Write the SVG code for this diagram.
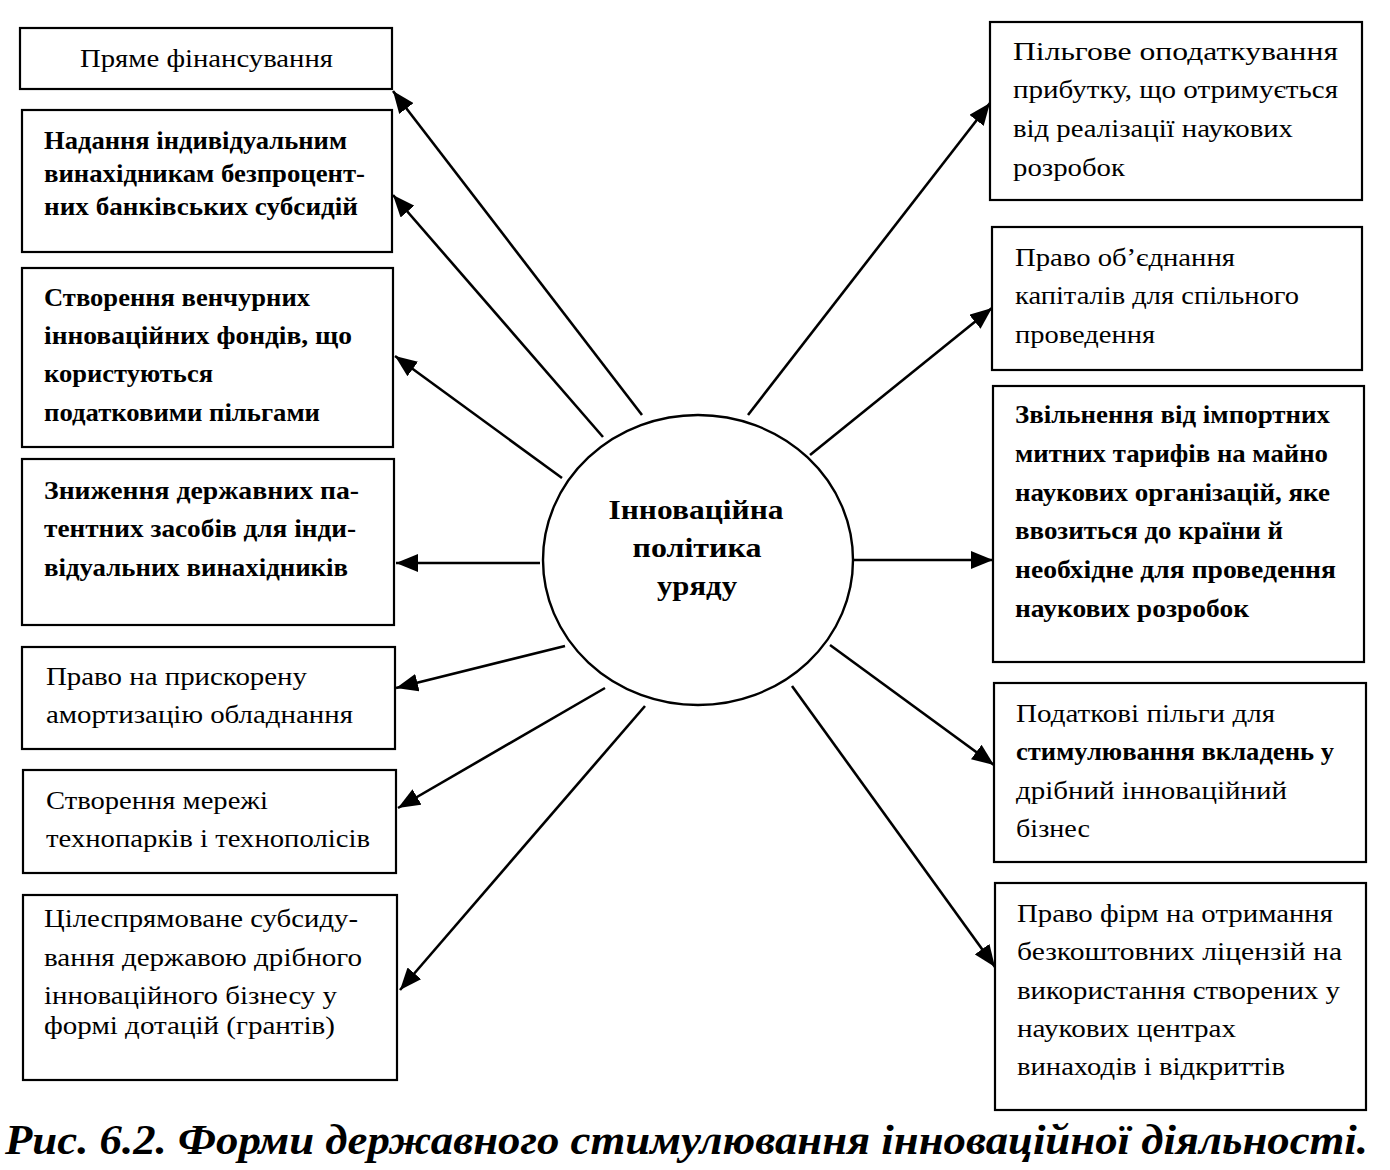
<svg xmlns="http://www.w3.org/2000/svg" width="1390" height="1170" viewBox="0 0 1390 1170">
<style>
.box{fill:#fff;stroke:#000;stroke-width:2.2}
.t{font-family:"Liberation Serif","Times New Roman",serif;font-size:25px;fill:#000}
.b{font-weight:bold}
.c{font-family:"Liberation Serif","Times New Roman",serif;font-size:28px;font-weight:bold;fill:#000;text-anchor:middle}
.cap{font-family:"Liberation Serif","Times New Roman",serif;font-size:42px;font-weight:bold;font-style:italic;fill:#000}
.ln{stroke:#000;stroke-width:2.6;fill:none;marker-end:url(#ah)}
</style>
<defs>
<marker id="ah" markerUnits="userSpaceOnUse" markerWidth="24" markerHeight="18" refX="22" refY="9" orient="auto">
<path d="M0,0 L22,9 L0,18 z" fill="#000"/>
</marker>
</defs>
<rect width="1390" height="1170" fill="#fff"/>

<g id="connectors">
<line class="ln" x1="642" y1="415" x2="393" y2="91"/>
<line class="ln" x1="603" y1="437" x2="393" y2="195"/>
<line class="ln" x1="562" y1="478" x2="395" y2="356"/>
<line class="ln" x1="540" y1="563" x2="396" y2="563"/>
<line class="ln" x1="565" y1="646" x2="396" y2="688"/>
<line class="ln" x1="605" y1="688" x2="398" y2="808"/>
<line class="ln" x1="645" y1="706" x2="400" y2="990"/>
<line class="ln" x1="748" y1="415" x2="990" y2="103"/>
<line class="ln" x1="810" y1="455" x2="992" y2="308"/>
<line class="ln" x1="853" y1="560" x2="993" y2="560"/>
<line class="ln" x1="830" y1="645" x2="994" y2="765"/>
<line class="ln" x1="792" y1="686" x2="995" y2="967"/>
</g>

<g id="center">
<ellipse cx="698" cy="560" rx="155" ry="145" fill="#fff" stroke="#000" stroke-width="2.4"/>
<text class="c" x="696" y="519" textLength="175" lengthAdjust="spacingAndGlyphs">Інноваційна</text>
<text class="c" x="697" y="557" textLength="129" lengthAdjust="spacingAndGlyphs">політика</text>
<text class="c" x="697" y="595" textLength="80" lengthAdjust="spacingAndGlyphs">уряду</text>
</g>

<g id="L1">
<rect class="box" x="20" y="28" width="372" height="61"/>
<text class="t" x="80" y="67" textLength="253" lengthAdjust="spacingAndGlyphs">Пряме фінансування</text>
</g>
<g id="L2">
<rect class="box" x="22" y="110" width="370" height="142"/>
<text class="t b" x="44" y="149" textLength="303" lengthAdjust="spacingAndGlyphs">Надання індивідуальним</text>
<text class="t b" x="44" y="182" textLength="321" lengthAdjust="spacingAndGlyphs">винахідникам безпроцент-</text>
<text class="t b" x="44" y="215" textLength="314" lengthAdjust="spacingAndGlyphs">них банківських субсидій</text>
</g>
<g id="L3">
<rect class="box" x="22" y="268" width="371" height="179"/>
<text class="t b" x="44" y="306" textLength="266" lengthAdjust="spacingAndGlyphs">Створення венчурних</text>
<text class="t b" x="44" y="344" textLength="308" lengthAdjust="spacingAndGlyphs">інноваційних фондів, що</text>
<text class="t b" x="44" y="382" textLength="169" lengthAdjust="spacingAndGlyphs">користуються</text>
<text class="t b" x="44" y="421" textLength="276" lengthAdjust="spacingAndGlyphs">податковими пільгами</text>
</g>
<g id="L4">
<rect class="box" x="22" y="459" width="372" height="166"/>
<text class="t b" x="44" y="499" textLength="315" lengthAdjust="spacingAndGlyphs">Зниження державних па-</text>
<text class="t b" x="44" y="537" textLength="312" lengthAdjust="spacingAndGlyphs">тентних засобів для інди-</text>
<text class="t b" x="44" y="576" textLength="304" lengthAdjust="spacingAndGlyphs">відуальних винахідників</text>
</g>
<g id="L5">
<rect class="box" x="22" y="647" width="373" height="102"/>
<text class="t" x="46" y="685" textLength="261" lengthAdjust="spacingAndGlyphs">Право на прискорену</text>
<text class="t" x="46" y="723" textLength="307" lengthAdjust="spacingAndGlyphs">амортизацію обладнання</text>
</g>
<g id="L6">
<rect class="box" x="23" y="770" width="373" height="103"/>
<text class="t" x="46" y="809" textLength="222" lengthAdjust="spacingAndGlyphs">Створення мережі</text>
<text class="t" x="46" y="847" textLength="324" lengthAdjust="spacingAndGlyphs">технопарків і технополісів</text>
</g>
<g id="L7">
<rect class="box" x="23" y="895" width="374" height="185"/>
<text class="t" x="44" y="927" textLength="314" lengthAdjust="spacingAndGlyphs">Цілеспрямоване субсиду-</text>
<text class="t" x="44" y="966" textLength="318" lengthAdjust="spacingAndGlyphs">вання державою дрібного</text>
<text class="t" x="44" y="1004" textLength="293" lengthAdjust="spacingAndGlyphs">інноваційного бізнесу у</text>
<text class="t" x="44" y="1034" textLength="291" lengthAdjust="spacingAndGlyphs">формі дотацій (грантів)</text>
</g>

<g id="R1">
<rect class="box" x="990" y="22" width="372" height="178"/>
<text class="t" x="1013" y="60" textLength="325" lengthAdjust="spacingAndGlyphs">Пільгове оподаткування</text>
<text class="t" x="1013" y="98" textLength="325" lengthAdjust="spacingAndGlyphs">прибутку, що отримується</text>
<text class="t" x="1013" y="137" textLength="280" lengthAdjust="spacingAndGlyphs">від реалізації наукових</text>
<text class="t" x="1013" y="176" textLength="112" lengthAdjust="spacingAndGlyphs">розробок</text>
</g>
<g id="R2">
<rect class="box" x="992" y="227" width="370" height="143"/>
<text class="t" x="1015" y="266" textLength="220" lengthAdjust="spacingAndGlyphs">Право об’єднання</text>
<text class="t" x="1015" y="304" textLength="284" lengthAdjust="spacingAndGlyphs">капіталів для спільного</text>
<text class="t" x="1015" y="343" textLength="140" lengthAdjust="spacingAndGlyphs">проведення</text>
</g>
<g id="R3">
<rect class="box" x="993" y="386" width="371" height="276"/>
<text class="t b" x="1015" y="423" textLength="315" lengthAdjust="spacingAndGlyphs">Звільнення від імпортних</text>
<text class="t b" x="1015" y="462" textLength="313" lengthAdjust="spacingAndGlyphs">митних тарифів на майно</text>
<text class="t b" x="1015" y="501" textLength="315" lengthAdjust="spacingAndGlyphs">наукових організацій, яке</text>
<text class="t b" x="1015" y="539" textLength="268" lengthAdjust="spacingAndGlyphs">ввозиться до країни й</text>
<text class="t b" x="1015" y="578" textLength="321" lengthAdjust="spacingAndGlyphs">необхідне для проведення</text>
<text class="t b" x="1015" y="617" textLength="234" lengthAdjust="spacingAndGlyphs">наукових розробок</text>
</g>
<g id="R4">
<rect class="box" x="994" y="683" width="372" height="179"/>
<text class="t" x="1016" y="722" textLength="259" lengthAdjust="spacingAndGlyphs">Податкові пільги для</text>
<text class="t b" x="1016" y="760" textLength="318" lengthAdjust="spacingAndGlyphs">стимулювання вкладень у</text>
<text class="t" x="1016" y="799" textLength="271" lengthAdjust="spacingAndGlyphs">дрібний інноваційний</text>
<text class="t" x="1016" y="837" textLength="74" lengthAdjust="spacingAndGlyphs">бізнес</text>
</g>
<g id="R5">
<rect class="box" x="995" y="883" width="371" height="227"/>
<text class="t" x="1017" y="922" textLength="316" lengthAdjust="spacingAndGlyphs">Право фірм на отримання</text>
<text class="t" x="1017" y="960" textLength="325" lengthAdjust="spacingAndGlyphs">безкоштовних ліцензій  на</text>
<text class="t" x="1017" y="999" textLength="323" lengthAdjust="spacingAndGlyphs">використання створених у</text>
<text class="t" x="1017" y="1037" textLength="219" lengthAdjust="spacingAndGlyphs">наукових центрах</text>
<text class="t" x="1017" y="1075" textLength="268" lengthAdjust="spacingAndGlyphs">винаходів і відкриттів</text>
</g>

<text class="cap" x="5" y="1154" textLength="1363" lengthAdjust="spacingAndGlyphs">Рис. 6.2. Форми державного стимулювання інноваційної діяльності.</text>
</svg>
